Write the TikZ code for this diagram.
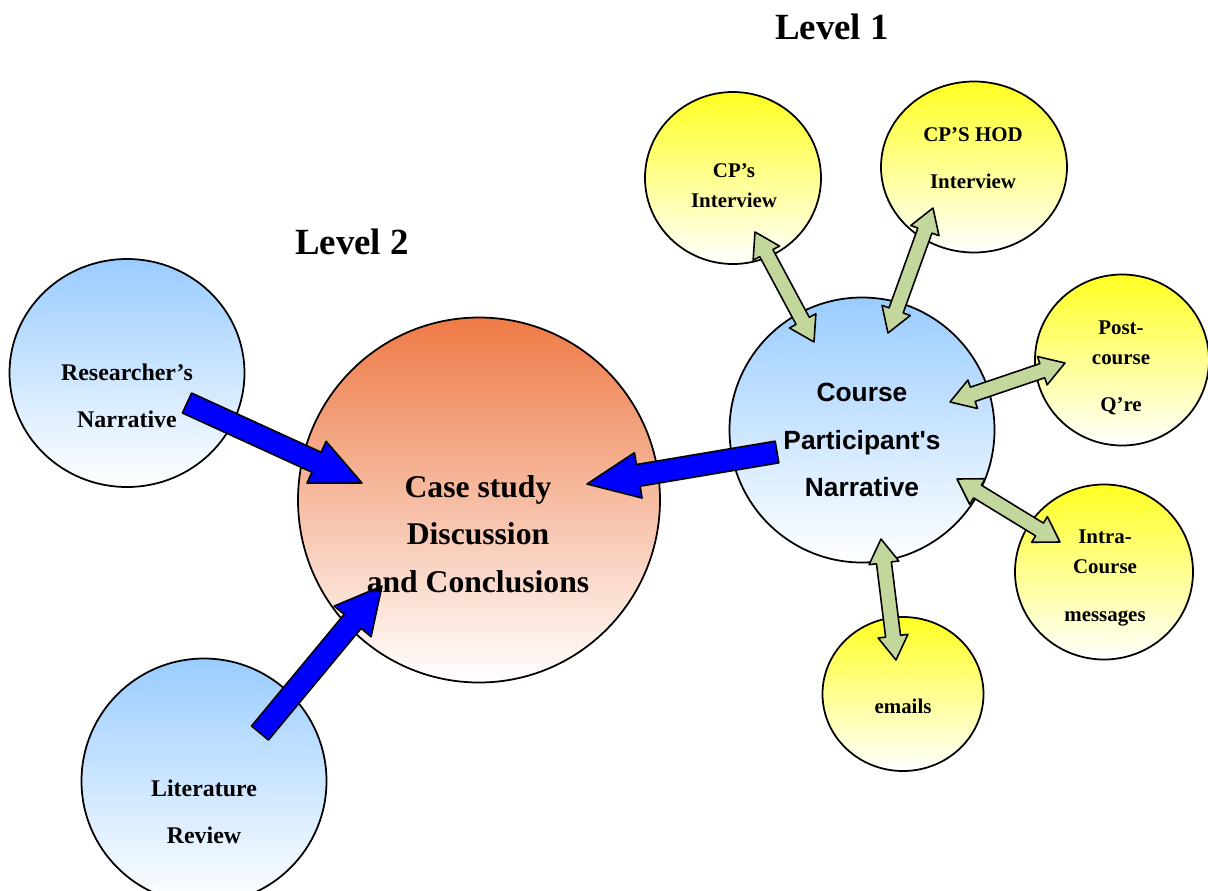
\documentclass[tikz,border=0pt]{standalone}
\usepackage{fontspec}
\setmainfont{Liberation Serif}
\newfontfamily\arialfont{Liberation Sans}
\usetikzlibrary{calc,shapes.geometric}
\definecolor{skyblue}{HTML}{99CCFF}
\definecolor{lemon}{HTML}{FFFF22}
\definecolor{caseorange}{HTML}{EE7A46}
\definecolor{sage}{HTML}{C3D69B}
\definecolor{pureblue}{HTML}{0000FF}
\tikzset{
  bubble/.style 2 args={ellipse,draw=black,line width=1pt,inner sep=0pt,minimum width=#1*0.02cm,minimum height=#2*0.02cm},
  bluebub/.style={top color=skyblue,bottom color=white},
  yellowbub/.style={top color=lemon,bottom color=white},
  casebub/.style={top color=caseorange,bottom color=white},
  smalltxt/.style={align=center,font=\bfseries\fontsize{11.9}{27}\selectfont},
  midtxt/.style={align=center,font=\bfseries\fontsize{13.6}{27}\selectfont},
  bigtxt/.style={align=center,font=\bfseries\fontsize{18}{27}\selectfont},
  leveltxt/.style={font=\bfseries\fontsize{21}{25}\selectfont}
}
% block arrow: from, to, half shaft, half head, head length, colour
\newcommand{\blockarr}[6]{%
  \coordinate (nk) at ($(#2)!#5*0.02cm!(#1)$);
  \draw[fill=#6,line width=0.9pt] ($(#1)!#3*0.02cm!90:(#2)$) -- ($(nk)!#3*0.02cm!90:(#2)$) -- ($(nk)!#4*0.02cm!90:(#2)$) -- (#2) -- ($(nk)!#4*0.02cm!-90:(#2)$) -- ($(nk)!#3*0.02cm!-90:(#2)$) -- ($(#1)!#3*0.02cm!-90:(#2)$) -- cycle;}
% double headed block arrow: end, end, half shaft, half head, head length
\newcommand{\dblarr}[5]{%
  \coordinate (nka) at ($(#1)!#5*0.02cm!(#2)$);
  \coordinate (nkb) at ($(#2)!#5*0.02cm!(#1)$);
  \draw[fill=sage,line width=0.9pt] (#1) -- ($(nka)!#4*0.02cm!90:(#2)$) -- ($(nka)!#3*0.02cm!90:(#2)$) -- ($(nkb)!#3*0.02cm!-90:(#1)$) -- ($(nkb)!#4*0.02cm!-90:(#1)$) -- (#2) -- ($(nkb)!#4*0.02cm!90:(#1)$) -- ($(nkb)!#3*0.02cm!90:(#1)$) -- ($(nka)!#3*0.02cm!-90:(#2)$) -- ($(nka)!#4*0.02cm!-90:(#2)$) -- cycle;}
\begin{document}
\begin{tikzpicture}[x=0.02cm,y=-0.02cm,line join=round]
  \useasboundingbox (0,0) rectangle (1208,890);
  % level 2 bubbles
  \node[bubble={235}{228},bluebub] (rn) at (127,373) {};
  \node[bubble={245}{245},bluebub] (lr) at (204,781) {};
  \node[bubble={362}{365},casebub] (cs) at (479,500) {};
  % level 1 bubbles
  \node[bubble={265}{265},bluebub] (cp) at (862,430) {};
  \node[bubble={176}{172},yellowbub] (ci) at (733,178) {};
  \node[bubble={186}{171},yellowbub] (hod) at (974,167) {};
  \node[bubble={174}{171},yellowbub] (pc) at (1122,360) {};
  \node[bubble={178}{175},yellowbub] (ic) at (1104,572) {};
  \node[bubble={161}{154},yellowbub] (em) at (903,694) {};
  % arrow ends
  \coordinate (rnT) at (187,403);
  \coordinate (csA) at (362,483);
  \coordinate (lrT) at (260,733);
  \coordinate (csB) at (382,586);
  \coordinate (cpT) at (777,452);
  \coordinate (csC) at (587,484);
  \coordinate (ciE) at (755,232);  \coordinate (cpA) at (814,342);
  \coordinate (hodE) at (933,208); \coordinate (cpB) at (888,333);
  \coordinate (pcE) at (1065,363); \coordinate (cpC) at (950,402);
  \coordinate (icE) at (1060,542); \coordinate (cpD) at (957,479);
  \coordinate (emE) at (896,660);  \coordinate (cpE) at (881,539);
  \blockarr{rnT}{csA}{11}{23}{50}{pureblue}
  \blockarr{lrT}{csB}{11}{24}{46}{pureblue}
  \blockarr{cpT}{csC}{11}{23}{52}{pureblue}
  \dblarr{ciE}{cpA}{7.5}{15}{24}
  \dblarr{hodE}{cpB}{7.5}{15}{24}
  \dblarr{pcE}{cpC}{7.5}{15}{24}
  \dblarr{icE}{cpD}{7.5}{15}{24}
  \dblarr{emE}{cpE}{7.5}{15}{24}
  % texts
  \node[leveltxt] (lv1) at (832,27) {Level 1};
  \node[leveltxt] (lv2) at (352,242) {Level 2};
  \node[midtxt] (rnt) at (127,396) {Researcher’s\\Narrative};
  \node[midtxt] (lrt) at (204,812) {Literature\\Review};
  \node[bigtxt] (cst) at (478,534) {Case study\\Discussion\\and Conclusions};
  \node[align=center,font=\arialfont\bfseries\fontsize{15}{27}\selectfont] (cpt) at (862,440) {Course\\Participant's\\Narrative};
  \node[smalltxt,font=\bfseries\fontsize{11.9}{17}\selectfont] (cit) at (734,186) {CP’s\\Interview};
  \node[smalltxt] (hodt) at (973,158) {CP’S HOD\\Interview};
  \node[smalltxt] (pct) at (1121,368) {Post-\\[-10pt]course\\Q’re};
  \node[smalltxt] (ict) at (1105,578) {Intra-\\[-10pt]Course\\messages};
  \node[smalltxt] (emt) at (903,706) {emails};
\end{tikzpicture}
\end{document}
